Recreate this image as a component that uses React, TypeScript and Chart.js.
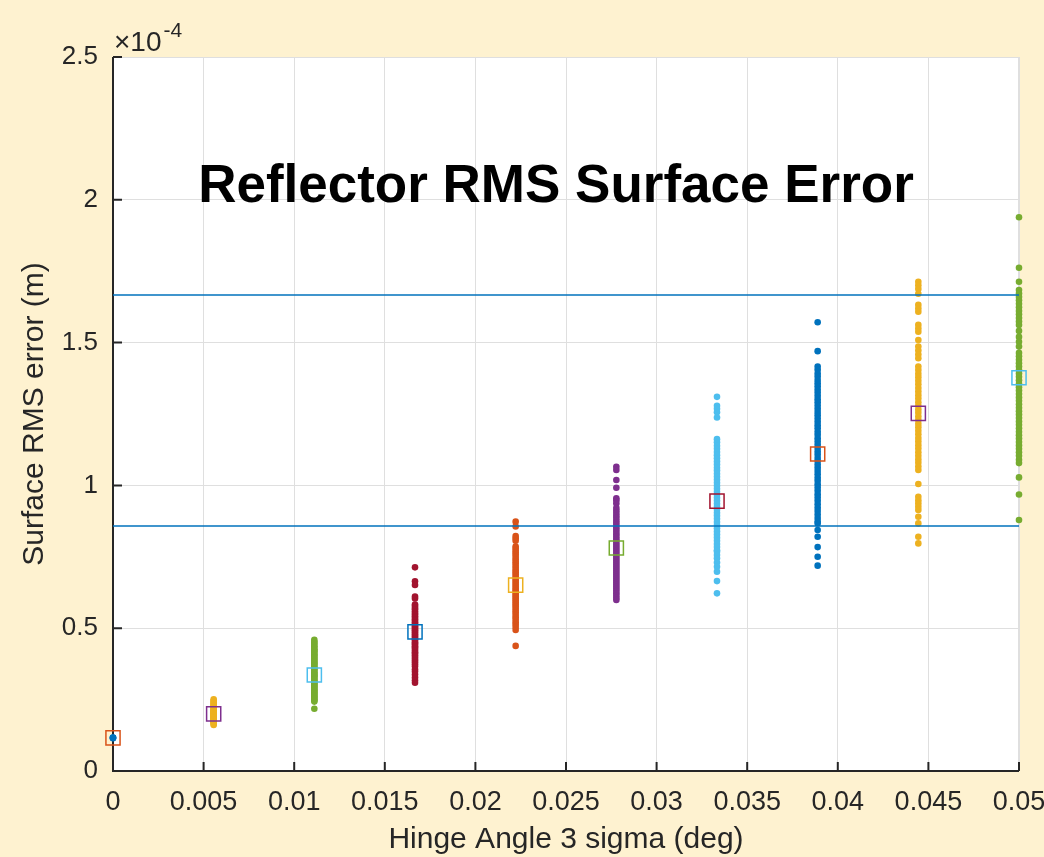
import { useEffect, useRef } from "react";
import { Chart, registerables } from "chart.js";

Chart.register(...registerables);

// ---------- data (values in units of 1e-4 m) ----------
const xPositions = [0, 0.005556, 0.011111, 0.016667, 0.022222, 0.027778, 0.033333, 0.038889, 0.044444, 0.05];

const col0 = [0.116, 0.115, 0.117, 0.116];
const col1 = [0.251, 0.246, 0.243, 0.238, 0.236, 0.231, 0.229, 0.226, 0.222, 0.219, 0.217, 0.214, 0.212, 0.209, 0.207, 0.205, 0.203, 0.201, 0.199, 0.198, 0.196, 0.194, 0.193, 0.191, 0.189, 0.187, 0.185, 0.183, 0.181, 0.179, 0.176, 0.173, 0.171, 0.168, 0.165, 0.161];
const col2 = [0.459, 0.452, 0.448, 0.441, 0.437, 0.431, 0.426, 0.422, 0.419, 0.413, 0.409, 0.405, 0.399, 0.396, 0.391, 0.385, 0.382, 0.377, 0.373, 0.368, 0.363, 0.359, 0.356, 0.351, 0.346, 0.343, 0.338, 0.335, 0.332, 0.327, 0.322, 0.319, 0.314, 0.311, 0.306, 0.303, 0.298, 0.295, 0.291, 0.286, 0.283, 0.278, 0.274, 0.271, 0.266, 0.262, 0.259, 0.254, 0.251, 0.247, 0.243, 0.218];
const col3 = [0.713, 0.664, 0.651, 0.611, 0.604, 0.583, 0.578, 0.571, 0.566, 0.559, 0.553, 0.548, 0.542, 0.537, 0.531, 0.526, 0.521, 0.516, 0.511, 0.506, 0.502, 0.497, 0.493, 0.488, 0.484, 0.479, 0.474, 0.47, 0.465, 0.461, 0.456, 0.451, 0.446, 0.442, 0.437, 0.432, 0.427, 0.421, 0.416, 0.411, 0.405, 0.399, 0.393, 0.387, 0.381, 0.374, 0.367, 0.356, 0.348, 0.338, 0.327, 0.318, 0.309];
const col4 = [0.873, 0.856, 0.823, 0.815, 0.806, 0.786, 0.779, 0.771, 0.764, 0.757, 0.749, 0.741, 0.733, 0.726, 0.718, 0.711, 0.703, 0.696, 0.689, 0.681, 0.674, 0.667, 0.66, 0.653, 0.646, 0.639, 0.633, 0.626, 0.619, 0.612, 0.605, 0.598, 0.591, 0.584, 0.577, 0.569, 0.561, 0.554, 0.546, 0.538, 0.53, 0.521, 0.513, 0.504, 0.494, 0.438];
const col5 = [1.065, 1.054, 1.019, 0.992, 0.955, 0.948, 0.937, 0.921, 0.912, 0.903, 0.894, 0.886, 0.877, 0.869, 0.861, 0.853, 0.845, 0.837, 0.829, 0.821, 0.813, 0.806, 0.798, 0.791, 0.784, 0.777, 0.77, 0.763, 0.756, 0.749, 0.742, 0.735, 0.728, 0.721, 0.714, 0.707, 0.7, 0.693, 0.686, 0.679, 0.672, 0.665, 0.658, 0.651, 0.644, 0.637, 0.63, 0.622, 0.614, 0.606, 0.599];
const col6 = [1.31, 1.279, 1.268, 1.256, 1.238, 1.162, 1.151, 1.139, 1.128, 1.117, 1.106, 1.095, 1.084, 1.073, 1.062, 1.052, 1.041, 1.03, 1.02, 1.009, 0.999, 0.988, 0.978, 0.967, 0.957, 0.946, 0.936, 0.925, 0.915, 0.904, 0.894, 0.883, 0.872, 0.861, 0.85, 0.839, 0.828, 0.817, 0.806, 0.795, 0.784, 0.773, 0.768, 0.756, 0.745, 0.73, 0.715, 0.698, 0.665, 0.622];
const col7 = [1.571, 1.47, 1.416, 1.405, 1.392, 1.381, 1.369, 1.358, 1.347, 1.336, 1.325, 1.314, 1.302, 1.291, 1.28, 1.268, 1.257, 1.246, 1.234, 1.223, 1.211, 1.2, 1.188, 1.177, 1.165, 1.154, 1.142, 1.131, 1.119, 1.108, 1.096, 1.085, 1.073, 1.062, 1.05, 1.039, 1.027, 1.016, 1.004, 0.993, 0.981, 0.969, 0.958, 0.946, 0.934, 0.922, 0.91, 0.898, 0.886, 0.874, 0.867, 0.844, 0.82, 0.784, 0.75, 0.719];
const col8 = [1.713, 1.701, 1.688, 1.671, 1.632, 1.619, 1.608, 1.562, 1.549, 1.538, 1.509, 1.486, 1.472, 1.458, 1.445, 1.416, 1.404, 1.391, 1.379, 1.366, 1.354, 1.341, 1.329, 1.316, 1.304, 1.291, 1.279, 1.266, 1.254, 1.241, 1.229, 1.216, 1.204, 1.191, 1.179, 1.166, 1.154, 1.141, 1.129, 1.116, 1.104, 1.091, 1.079, 1.066, 1.054, 1.005, 0.96, 0.948, 0.937, 0.925, 0.914, 0.89, 0.867, 0.82, 0.797];
const col9 = [1.939, 1.762, 1.713, 1.684, 1.672, 1.66, 1.648, 1.636, 1.624, 1.611, 1.599, 1.586, 1.574, 1.562, 1.541, 1.52, 1.503, 1.486, 1.464, 1.452, 1.44, 1.428, 1.416, 1.404, 1.392, 1.38, 1.368, 1.356, 1.344, 1.332, 1.32, 1.308, 1.296, 1.284, 1.272, 1.26, 1.248, 1.236, 1.224, 1.212, 1.2, 1.188, 1.176, 1.164, 1.152, 1.14, 1.128, 1.116, 1.104, 1.09, 1.078, 1.028, 0.968, 0.879];

const columns = [col0, col1, col2, col3, col4, col5, col6, col7, col8, col9];
const meanValues = [0.116, 0.2, 0.336, 0.487, 0.651, 0.781, 0.945, 1.11, 1.252, 1.377];
const limitLines = [1.667, 0.858];

const xTickValues = [0, 0.005, 0.01, 0.015, 0.02, 0.025, 0.03, 0.035, 0.04, 0.045, 0.05];
const xTickLabels = ["0", "0.005", "0.01", "0.015", "0.02", "0.025", "0.03", "0.035", "0.04", "0.045", "0.05"];
const yTickValues = [0, 0.5, 1, 1.5, 2, 2.5];
const yTickLabels = ["0", "0.5", "1", "1.5", "2", "2.5"];

const dotColors = ["#0072BD", "#EDB120", "#77AC30", "#A2142F", "#D95319", "#7E2F8E", "#4DBEEE", "#0072BD", "#EDB120", "#77AC30"];
const meanColors = ["#D95319", "#7E2F8E", "#4DBEEE", "#0072BD", "#EDB120", "#77AC30", "#A2142F", "#D95319", "#7E2F8E", "#4DBEEE"];

const titleText = "Reflector RMS Surface Error";
const xTitle = "Hinge Angle 3 sigma (deg)";
const yTitle = "Surface RMS error (m)";

// ---------- styling ----------
const FONT = '"Liberation Sans", Arial, Helvetica, sans-serif';
const TEXT = "#262626";
const CREAM = "#FEF2D0";
const GRID = "#dfdfdf";

const W = 1044;
const H = 857;

const decorPlugin = {
  id: "decor",
  beforeDraw(chart: any) {
    const { ctx, chartArea } = chart;
    ctx.save();
    ctx.fillStyle = CREAM;
    ctx.fillRect(0, 0, chart.width, chart.height);
    ctx.fillStyle = "#ffffff";
    ctx.fillRect(chartArea.left, chartArea.top, chartArea.right - chartArea.left, chartArea.bottom - chartArea.top);
    ctx.restore();
  },
  beforeDatasetsDraw(chart: any) {
    const { ctx, chartArea, scales } = chart;
    const { left, bottom, top, right } = chartArea;
    ctx.save();
    ctx.strokeStyle = GRID;
    ctx.lineWidth = 1;
    ctx.beginPath();
    ctx.moveTo(left, top + 0.5);
    ctx.lineTo(right, top + 0.5);
    ctx.moveTo(right - 0.5, top);
    ctx.lineTo(right - 0.5, bottom);
    ctx.stroke();
    ctx.strokeStyle = TEXT;
    ctx.lineWidth = 2;
    ctx.beginPath();
    ctx.moveTo(left, top);
    ctx.lineTo(left, bottom);
    ctx.lineTo(right, bottom);
    ctx.stroke();
    ctx.beginPath();
    xTickValues.forEach((v) => {
      const px = scales.x.getPixelForValue(v);
      ctx.moveTo(px, bottom);
      ctx.lineTo(px, bottom - 9);
    });
    yTickValues.forEach((v) => {
      const py = scales.y.getPixelForValue(v);
      ctx.moveTo(left, py);
      ctx.lineTo(left + 9, py);
    });
    ctx.stroke();
    ctx.restore();
  },
  afterDraw(chart: any) {
    const { ctx, chartArea } = chart;
    ctx.save();
    ctx.fillStyle = "#000000";
    ctx.textAlign = "center";
    ctx.textBaseline = "alphabetic";
    ctx.font = `bold 53px ${FONT}`;
    ctx.fillText(titleText, 556, 202);

    ctx.fillStyle = TEXT;
    ctx.textAlign = "left";
    ctx.font = `28px ${FONT}`;
    ctx.fillText("\u00d710", chartArea.left + 1, 51);
    const w = ctx.measureText("\u00d710").width;
    ctx.font = `21px ${FONT}`;
    ctx.fillText("-4", chartArea.left + 1 + w + 2, 37);

    ctx.font = `30px ${FONT}`;
    ctx.textAlign = "center";
    ctx.textBaseline = "middle";
    ctx.fillText(xTitle, (chartArea.left + chartArea.right) / 2, 840);
    ctx.translate(35, (chartArea.top + chartArea.bottom) / 2);
    ctx.rotate(-Math.PI / 2);
    ctx.fillText(yTitle, 0, 0);
    ctx.restore();
  },
};

export default function App() {
  const canvasRef = useRef<HTMLCanvasElement | null>(null);

  useEffect(() => {
    document.body.style.margin = "0";
    const canvas = canvasRef.current;
    if (!canvas) return;

    const lineSets = limitLines.map((v) => ({
      type: "line" as const,
      data: [
        { x: 0, y: v },
        { x: 0.05, y: v },
      ],
      borderColor: "#0072BD",
      borderWidth: 1.5,
      pointRadius: 0,
      fill: false,
      clip: false as any,
    }));

    const meanSet = {
      type: "scatter" as const,
      data: xPositions.map((x, i) => ({ x, y: meanValues[i] })),
      pointStyle: "rect",
      pointRadius: 10,
      pointBorderWidth: 1.5,
      pointBorderColor: meanColors,
      pointBackgroundColor: "rgba(0,0,0,0)",
      clip: false as any,
    };

    const dotSets = columns.map((vals, i) => ({
      type: "scatter" as const,
      data: vals.map((y) => ({ x: xPositions[i], y })),
      pointStyle: "circle",
      pointRadius: 3.3,
      pointBorderWidth: 0,
      pointBackgroundColor: dotColors[i],
      pointBorderColor: dotColors[i],
      clip: false as any,
    }));

    const chart = new Chart(canvas, {
      type: "scatter",
      data: { datasets: [...lineSets, meanSet, ...dotSets] as any },
      options: {
        animation: false,
        responsive: false,
        devicePixelRatio: 1,
        layout: { padding: { left: 0, right: W - 1019, top: 57, bottom: 0 } },
        plugins: { legend: { display: false }, tooltip: { enabled: false }, title: { display: false } },
        events: [],
        scales: {
          x: {
            type: "linear",
            min: 0,
            max: 0.05,
            afterBuildTicks: (s: any) => {
              s.ticks = xTickValues.map((v) => ({ value: v }));
            },
            afterFit: (s: any) => {
              s.height = H - 771;
              s.paddingLeft = 0;
              s.paddingRight = 0;
            },
            grid: { color: GRID, lineWidth: 1, drawTicks: false },
            border: { display: false },
            ticks: {
              autoSkip: false,
              maxRotation: 0,
              minRotation: 0,
              padding: 15,
              color: TEXT,
              font: { family: FONT, size: 27 },
              callback: (_v: any, i: number) => xTickLabels[i],
            },
          },
          y: {
            type: "linear",
            min: 0,
            max: 2.5,
            afterBuildTicks: (s: any) => {
              s.ticks = yTickValues.map((v) => ({ value: v }));
            },
            afterFit: (s: any) => {
              s.width = 113;
              s.paddingTop = 0;
              s.paddingBottom = 0;
            },
            grid: { color: GRID, lineWidth: 1, drawTicks: false },
            border: { display: false },
            ticks: {
              autoSkip: false,
              padding: 15,
              color: TEXT,
              font: { family: FONT, size: 26 },
              callback: (_v: any, i: number) => yTickLabels[i],
            },
          },
        },
      },
      plugins: [decorPlugin],
    });

    return () => chart.destroy();
  }, []);

  return (
    <div style={{ width: W, height: H }}>
      <canvas ref={canvasRef} width={W} height={H} style={{ display: "block", width: W, height: H }} />
    </div>
  );
}
